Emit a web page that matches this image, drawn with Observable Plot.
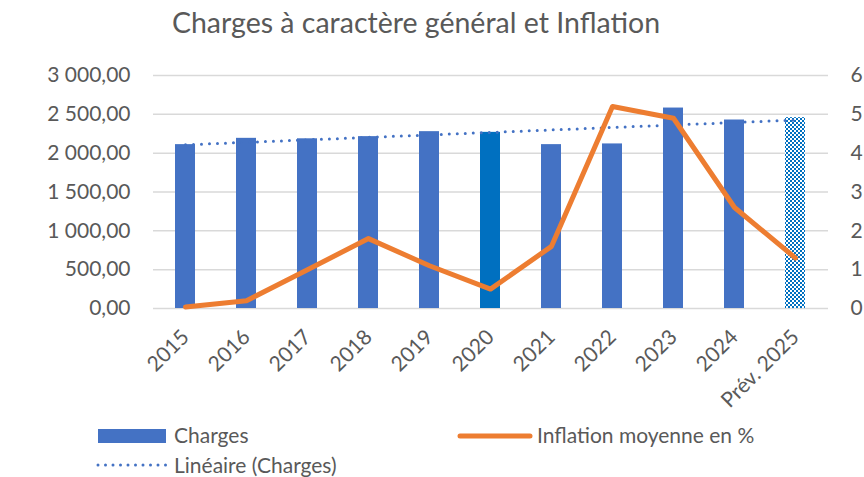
<!DOCTYPE html>
<html>
<head>
<meta charset="utf-8">
<script src="https://cdn.jsdelivr.net/npm/d3@7"></script>
<script src="https://cdn.jsdelivr.net/npm/@observablehq/plot@0.6"></script>
<style>
  body { margin: 0; background: white; }
  #wrap { position: relative; width: 864px; height: 477px; overflow: hidden; background: white; font-family: Lato, sans-serif; color: #595959; }
  #title { position: absolute; left: 0; width: 832px; text-align: center; top: 8px; font-size: 28.5px; line-height: 1; white-space: nowrap; }
  #chart { position: absolute; left: 0; top: 50px; }
  #ylabel { position: absolute; left: 22px; top: 122px; transform: translate(-50%, -50%) rotate(-90deg); font-size: 22px; line-height: 1; white-space: nowrap; }
  .lg { position: absolute; font-size: 21px; line-height: 1; white-space: nowrap; }
  .sw { position: absolute; }
</style>
</head>
<body>
<div id="wrap">
  <div id="title">Charges à caractère général et Inflation</div>
  <div id="ylabel">Milliers</div>
  <div id="chart"></div>
  <svg class="sw" style="left:96px; top:425px;" width="72" height="20"><rect x="2" y="4" width="68" height="14" fill="#4472C4"/></svg>
  <div class="lg" style="left:174px; top:424px;">Charges</div>
  <svg class="sw" style="left:93px; top:455px;" width="78" height="20"><line x1="5" x2="73" y1="10" y2="10" stroke="#4472C4" stroke-width="3" stroke-dasharray="0 7.5" stroke-linecap="round"/></svg>
  <div class="lg" style="left:174px; top:454px;">Linéaire (Charges)</div>
  <svg class="sw" style="left:455px; top:426px;" width="80" height="20"><line x1="5" x2="75" y1="10" y2="10" stroke="#ED7D31" stroke-width="5" stroke-linecap="round"/></svg>
  <div class="lg" style="left:537px; top:424px;">Inflation moyenne en %</div>
</div>
<script>
const years = ["2015", "2016", "2017", "2018", "2019", "2020", "2021", "2022", "2023", "2024", "Prév. 2025"];
const charges = [2110, 2191, 2185, 2213, 2277, 2268, 2110, 2119, 2581, 2427, 2457];
const inflation = [0.04, 0.2, 1.0, 1.8, 1.1, 0.5, 1.6, 5.2, 4.9, 2.6, 1.3];
const leftTicks = [0, 500, 1000, 1500, 2000, 2500, 3000];
const rightTicks = [0, 1, 2, 3, 4, 5, 6];

const ratio = 3000 / 6;
const data = years.map((year, i) => ({year, charges: charges[i], inflation: inflation[i], i}));

// linear trend of charges (least squares on index)
const mx = d3.mean(data, d => d.i), my = d3.mean(data, d => d.charges);
const slope = d3.sum(data, d => (d.i - mx) * (d.charges - my)) / d3.sum(data, d => (d.i - mx) ** 2);
const trend = data.map(d => ({year: d.year, value: my + slope * (d.i - mx)}));

const fr = d3.formatLocale({decimal: ",", thousands: "\u00a0", grouping: [3], currency: ["", "€"]});
const fmt = fr.format(",.2f");

const plot = Plot.plot({
  width: 864,
  height: 360,
  marginLeft: 153,
  marginRight: 36,
  marginTop: 25,
  marginBottom: 102,
  style: {fontFamily: "Lato, sans-serif", fontSize: "21px", color: "#595959", background: "white", overflow: "visible"},
  x: {domain: years, paddingInner: 0.67, paddingOuter: 0.335, align: 0.5, label: null},
  y: {domain: [0, 3000], label: null},
  marks: [
    Plot.gridY({ticks: leftTicks, stroke: "#D9D9D9", strokeOpacity: 1, strokeWidth: 1.5}),
    Plot.barY(data.filter(d => d.year !== "2020" && d.year !== "Prév. 2025"), {x: "year", y: "charges", fill: "#4472C4"}),
    Plot.barY(data.filter(d => d.year === "2020"), {x: "year", y: "charges", fill: "#0070C0"}),
    Plot.barY(data.filter(d => d.year === "Prév. 2025"), {x: "year", y: "charges", fill: "url(#chk)"}),
    Plot.line(trend, {x: "year", y: "value", stroke: "#4472C4", strokeWidth: 3, strokeDasharray: "0 8", strokeLinecap: "round"}),
    Plot.line(data, {x: "year", y: d => d.inflation * ratio, stroke: "#ED7D31", strokeWidth: 5}),
    Plot.axisY({ticks: leftTicks, anchor: "left", tickSize: 0, tickPadding: 23, tickFormat: fmt, label: null}),
    Plot.axisY({ticks: rightTicks.map(t => t * ratio), anchor: "right", tickSize: 0, tickPadding: 22, tickFormat: d => String(d / ratio), label: null}),
    Plot.axisX({tickSize: 0, tickRotate: -45, tickPadding: 25, label: null})
  ]
});

const ns = "http://www.w3.org/2000/svg";
const defs = document.createElementNS(ns, "defs");
defs.innerHTML = `<pattern id="chk" width="4" height="4" patternUnits="userSpaceOnUse">
  <rect width="4" height="4" fill="white"/>
  <rect width="2" height="2" fill="#0070C0"/>
  <rect x="2" y="2" width="2" height="2" fill="#0070C0"/>
</pattern>`;
plot.insertBefore(defs, plot.firstChild);
document.getElementById("chart").appendChild(plot);
</script>
</body>
</html>
